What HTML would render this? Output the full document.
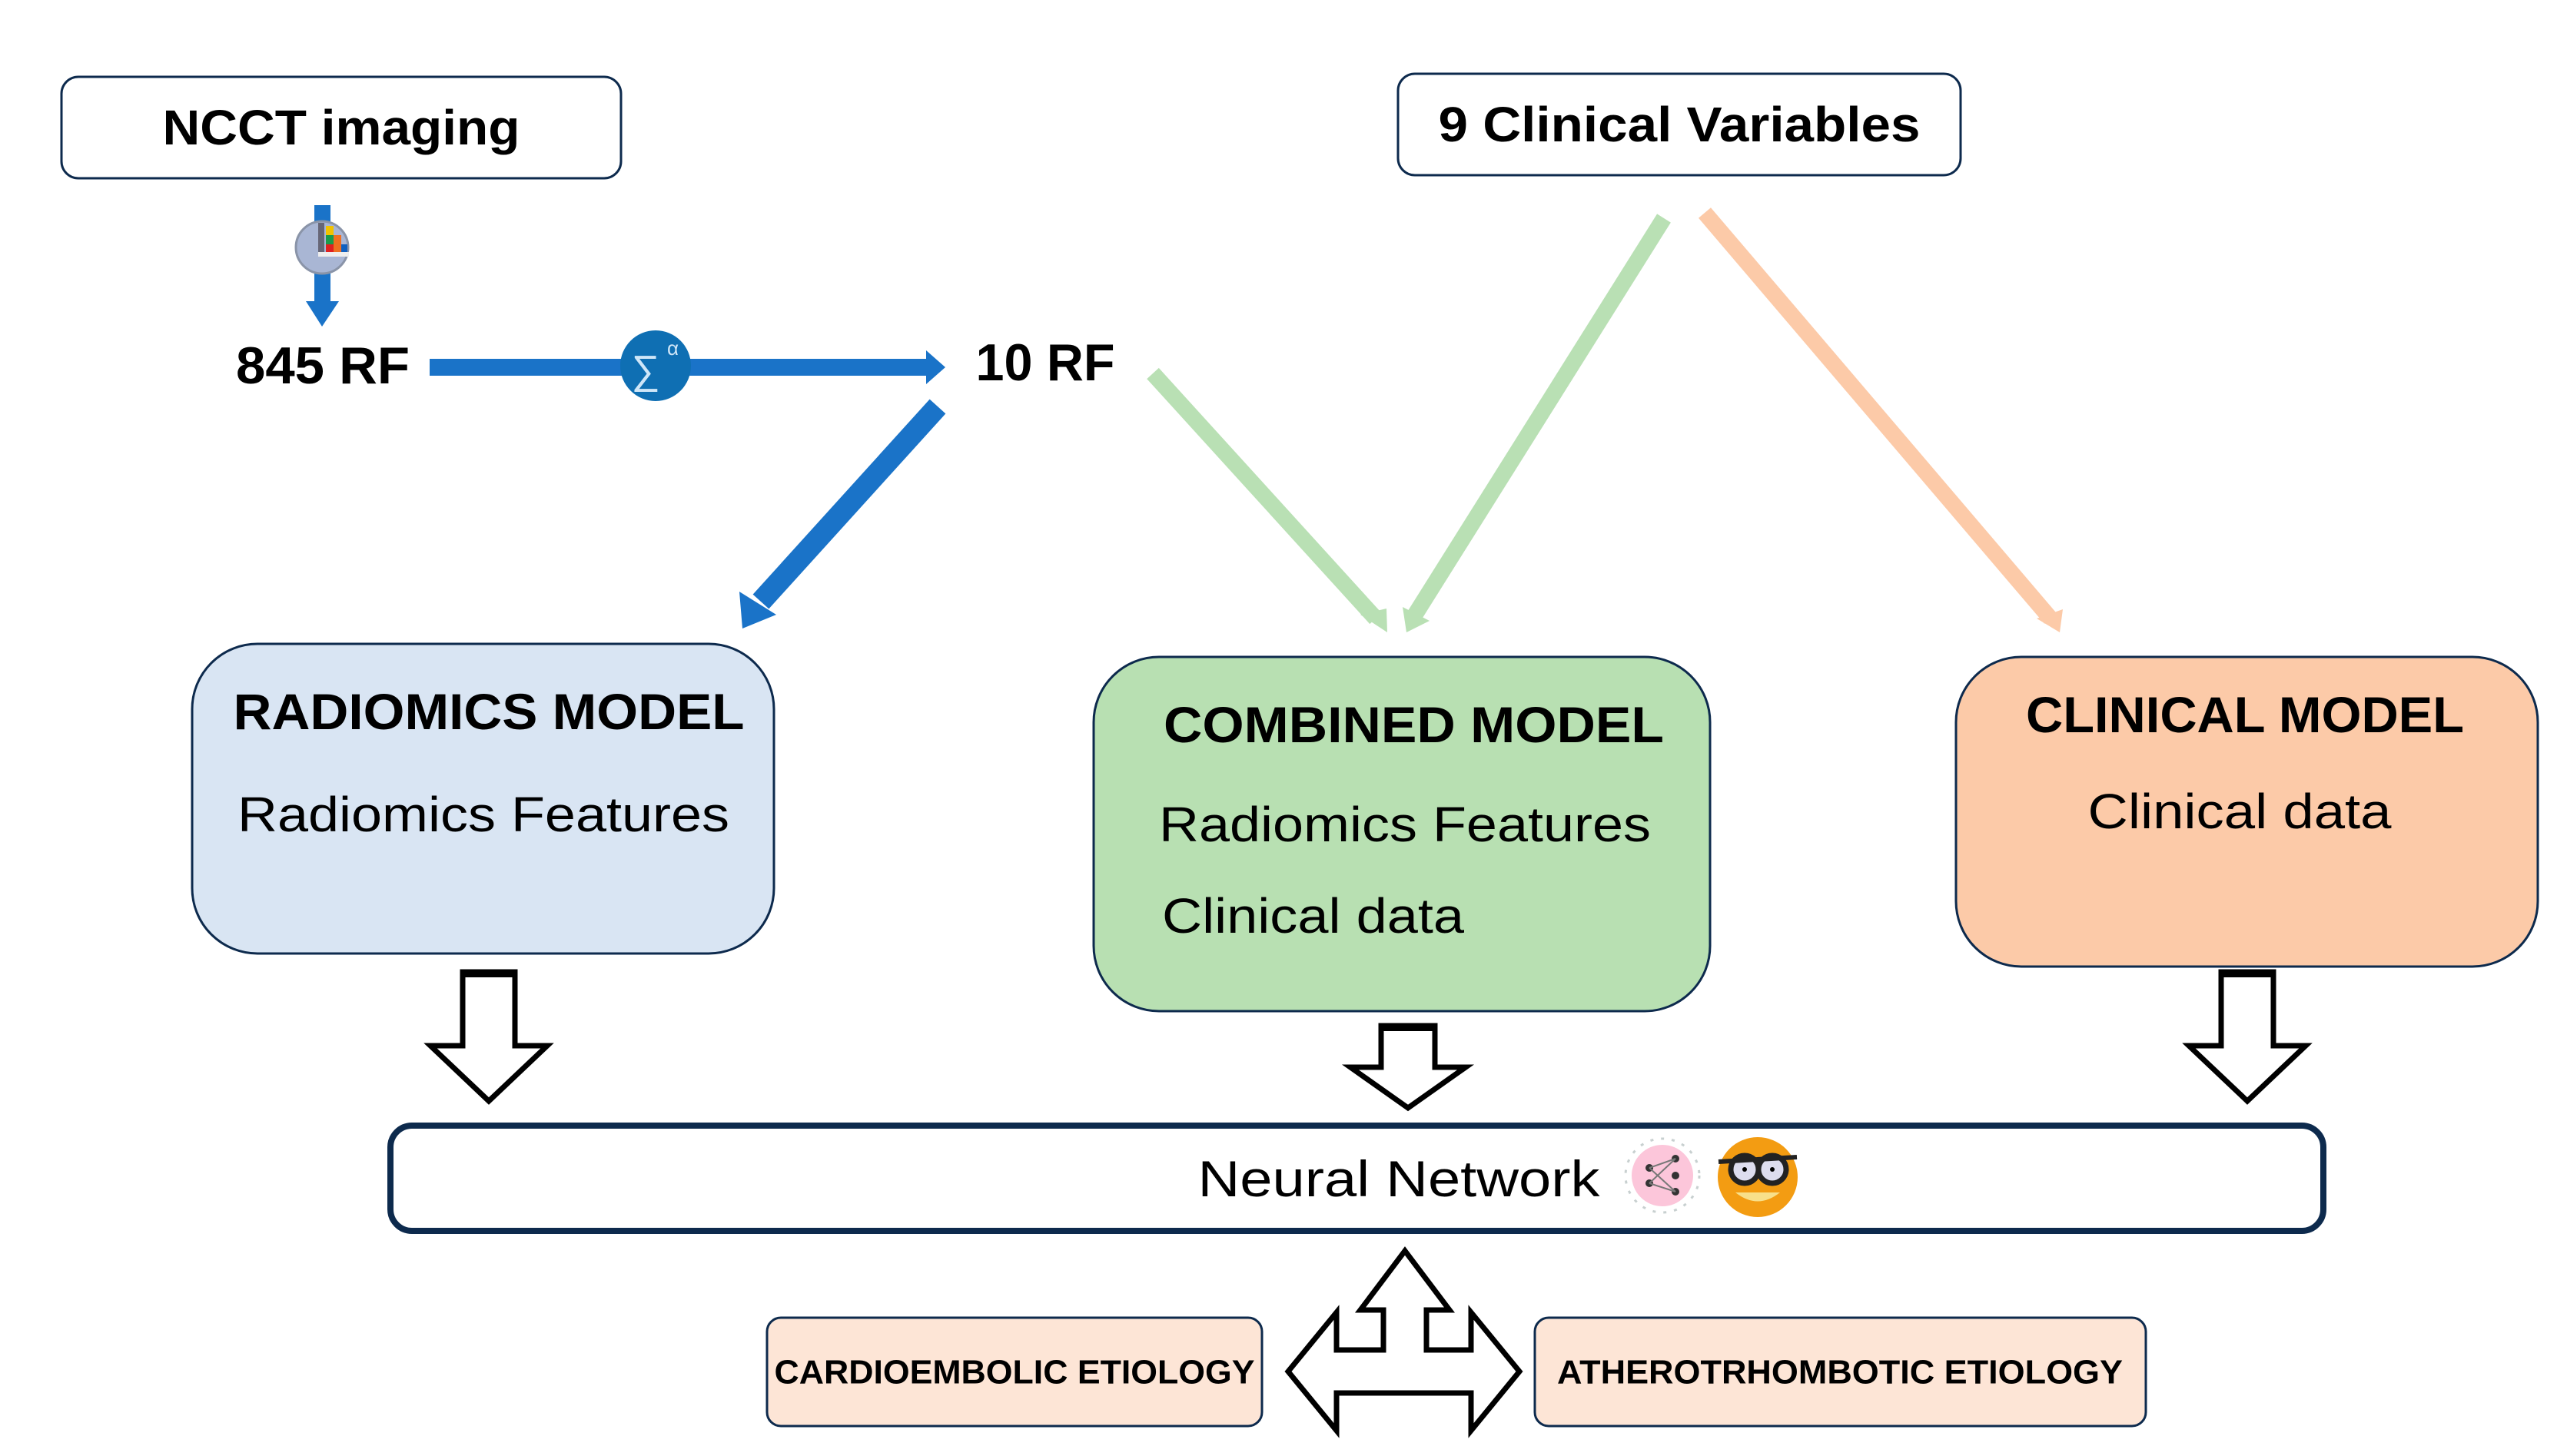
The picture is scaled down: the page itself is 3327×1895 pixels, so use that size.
<!DOCTYPE html>
<html><head><meta charset="utf-8"><style>
html,body{margin:0;padding:0;background:#fff;}
svg{display:block;}
text{font-family:"Liberation Sans",sans-serif;fill:#000;}
</style></head><body>
<svg width="3327" height="1895" viewBox="0 0 3327 1895" xmlns="http://www.w3.org/2000/svg">
<rect width="3327" height="1895" fill="#fff"/>
<rect x="80" y="100" width="728" height="132" rx="22" fill="#fff" stroke="#0d2a4d" stroke-width="3"/>
<text x="444" y="166" font-size="64" font-weight="bold" text-anchor="middle" dominant-baseline="central" textLength="465" lengthAdjust="spacingAndGlyphs">NCCT imaging</text>
<rect x="1819" y="96" width="732" height="132" rx="22" fill="#fff" stroke="#0d2a4d" stroke-width="3"/>
<text x="2185" y="162" font-size="64" font-weight="bold" text-anchor="middle" dominant-baseline="central" textLength="627" lengthAdjust="spacingAndGlyphs">9 Clinical Variables</text>

<rect x="409" y="267" width="21" height="130" fill="#1a73c8"/>
<polygon points="398,392 441,392 419,425" fill="#1a73c8"/>
<circle cx="419" cy="322" r="34" fill="#a9b6d4" stroke="#8a94a8" stroke-width="3"/>
<rect x="424" y="294" width="10" height="12" fill="#f2c200"/>
<rect x="424" y="306" width="10" height="12" fill="#1a9b4a"/><rect x="434" y="306" width="10" height="12" fill="#f07020"/>
<rect x="424" y="318" width="10" height="10" fill="#e02020"/><rect x="434" y="318" width="10" height="10" fill="#f07020"/><rect x="444" y="318" width="8" height="10" fill="#1060c0"/>
<rect x="414" y="290" width="8" height="44" fill="#667"/><rect x="414" y="328" width="40" height="6" fill="#eee"/>

<text x="420" y="476" font-size="68" font-weight="bold" text-anchor="middle" dominant-baseline="central" textLength="226" lengthAdjust="spacingAndGlyphs">845 RF</text>
<text x="1360" y="472" font-size="68" font-weight="bold" text-anchor="middle" dominant-baseline="central" textLength="181" lengthAdjust="spacingAndGlyphs">10 RF</text>

<rect x="559" y="467" width="650" height="22" fill="#1a73c8"/>
<polygon points="1205,456 1230,478 1205,500" fill="#1a73c8"/>
<circle cx="853" cy="476" r="46" fill="#0f6fb3"/>
<text x="840" y="482" font-size="52" text-anchor="middle" dominant-baseline="central" style="fill:#cfe6f8">∑</text>
<text x="868" y="462" font-size="26" style="fill:#cfe6f8">α</text>

<line x1="1220" y1="529" x2="990" y2="783" stroke="#1a73c8" stroke-width="28"/>
<polygon points="962,770 1010,800 966,818" fill="#1a73c8"/>

<line x1="1500" y1="486" x2="1790" y2="805" stroke="#b9e0b4" stroke-width="21"/>
<polygon points="1770,800 1804,792 1805,823" fill="#b9e0b4"/>
<line x1="2165" y1="284" x2="1838" y2="805" stroke="#b9e0b4" stroke-width="21"/>
<polygon points="1825,790 1860,808 1830,823" fill="#b9e0b4"/>
<line x1="2218" y1="277" x2="2668" y2="805" stroke="#fccaa8" stroke-width="21"/>
<polygon points="2650,805 2684,793 2680,823" fill="#fccaa8"/>

<rect x="250" y="838" width="757" height="403" rx="85" fill="#d9e5f3" stroke="#0d2a4d" stroke-width="3"/>
<text x="636" y="926" font-size="66" font-weight="bold" text-anchor="middle" dominant-baseline="central" textLength="665" lengthAdjust="spacingAndGlyphs">RADIOMICS MODEL</text>
<text x="629" y="1060" font-size="64" text-anchor="middle" dominant-baseline="central" textLength="640" lengthAdjust="spacingAndGlyphs">Radiomics Features</text>

<rect x="1423" y="855" width="802" height="461" rx="85" fill="#b8e0b2" stroke="#0d2a4d" stroke-width="3"/>
<text x="1514" y="943" font-size="66" font-weight="bold" dominant-baseline="central" textLength="651" lengthAdjust="spacingAndGlyphs">COMBINED MODEL</text>
<text x="1508" y="1073" font-size="64" dominant-baseline="central" textLength="640" lengthAdjust="spacingAndGlyphs">Radiomics Features</text>
<text x="1512" y="1192" font-size="64" dominant-baseline="central" textLength="393" lengthAdjust="spacingAndGlyphs">Clinical data</text>

<rect x="2545" y="855" width="757" height="403" rx="85" fill="#fccaa8" stroke="#0d2a4d" stroke-width="3"/>
<text x="2921" y="930" font-size="66" font-weight="bold" text-anchor="middle" dominant-baseline="central" textLength="570" lengthAdjust="spacingAndGlyphs">CLINICAL MODEL</text>
<text x="2914" y="1056" font-size="64" text-anchor="middle" dominant-baseline="central" textLength="395" lengthAdjust="spacingAndGlyphs">Clinical data</text>

<g fill="#fff" stroke="#000" stroke-width="7" stroke-linejoin="miter">
<polygon points="602,1265 670,1265 670,1361 712,1361 636,1433 560,1361 602,1361"/>
<polygon points="1797,1335 1867,1335 1867,1389 1907,1389 1832,1442 1757,1389 1797,1389"/>
<polygon points="2890,1265 2958,1265 2958,1361 3000,1361 2924,1433 2848,1361 2890,1361"/>
</g>
<rect x="602" y="1262" width="68" height="10" fill="#000"/>
<rect x="1797" y="1332" width="70" height="10" fill="#000"/>
<rect x="2890" y="1262" width="68" height="10" fill="#000"/>

<rect x="508" y="1465" width="2515" height="137" rx="28" fill="#fff" stroke="#0d2a4d" stroke-width="8"/>
<text x="1820" y="1534" font-size="66" text-anchor="middle" dominant-baseline="central" textLength="523" lengthAdjust="spacingAndGlyphs">Neural Network</text>
<circle cx="2163" cy="1530" r="48" fill="none" stroke="#c8d0d0" stroke-width="3" stroke-dasharray="4 10"/>
<circle cx="2163" cy="1530" r="40" fill="#fcc6da"/>
<g fill="#333"><circle cx="2146" cy="1520" r="5"/><circle cx="2146" cy="1540" r="5"/><circle cx="2180" cy="1508" r="5"/><circle cx="2180" cy="1530" r="5"/><circle cx="2180" cy="1551" r="5"/></g>
<g stroke="#777" stroke-width="2"><line x1="2146" y1="1520" x2="2180" y2="1508"/><line x1="2146" y1="1520" x2="2180" y2="1551"/><line x1="2146" y1="1540" x2="2180" y2="1508"/><line x1="2146" y1="1540" x2="2180" y2="1551"/></g>
<circle cx="2287" cy="1532" r="52" fill="#f39c12"/>
<path d="M2258 1552 Q2287 1575 2316 1552 Z" fill="#f8e08a"/>
<circle cx="2270" cy="1522" r="18" fill="#dde" stroke="#222" stroke-width="7"/>
<circle cx="2306" cy="1522" r="18" fill="#dde" stroke="#222" stroke-width="7"/>
<line x1="2236" y1="1512" x2="2338" y2="1506" stroke="#222" stroke-width="6"/>
<circle cx="2270" cy="1522" r="3" fill="#000"/><circle cx="2306" cy="1522" r="3" fill="#000"/>

<rect x="998" y="1715" width="644" height="141" rx="18" fill="#fde5d6" stroke="#0d2a4d" stroke-width="3"/>
<text x="1320" y="1786" font-size="44" font-weight="bold" text-anchor="middle" dominant-baseline="central" textLength="625" lengthAdjust="spacingAndGlyphs">CARDIOEMBOLIC ETIOLOGY</text>
<rect x="1997" y="1715" width="795" height="141" rx="18" fill="#fde5d6" stroke="#0d2a4d" stroke-width="3"/>
<text x="2394" y="1786" font-size="44" font-weight="bold" text-anchor="middle" dominant-baseline="central" textLength="736" lengthAdjust="spacingAndGlyphs">ATHEROTRHOMBOTIC ETIOLOGY</text>

<polygon points="1828,1628 1886,1705 1856,1705 1856,1757 1914,1757 1914,1708 1977,1785 1914,1862 1914,1813 1739,1813 1739,1862 1676,1785 1739,1708 1739,1757 1800,1757 1800,1705 1770,1705" fill="#fff" stroke="#000" stroke-width="7" stroke-linejoin="miter"/>
</svg>
</body></html>
